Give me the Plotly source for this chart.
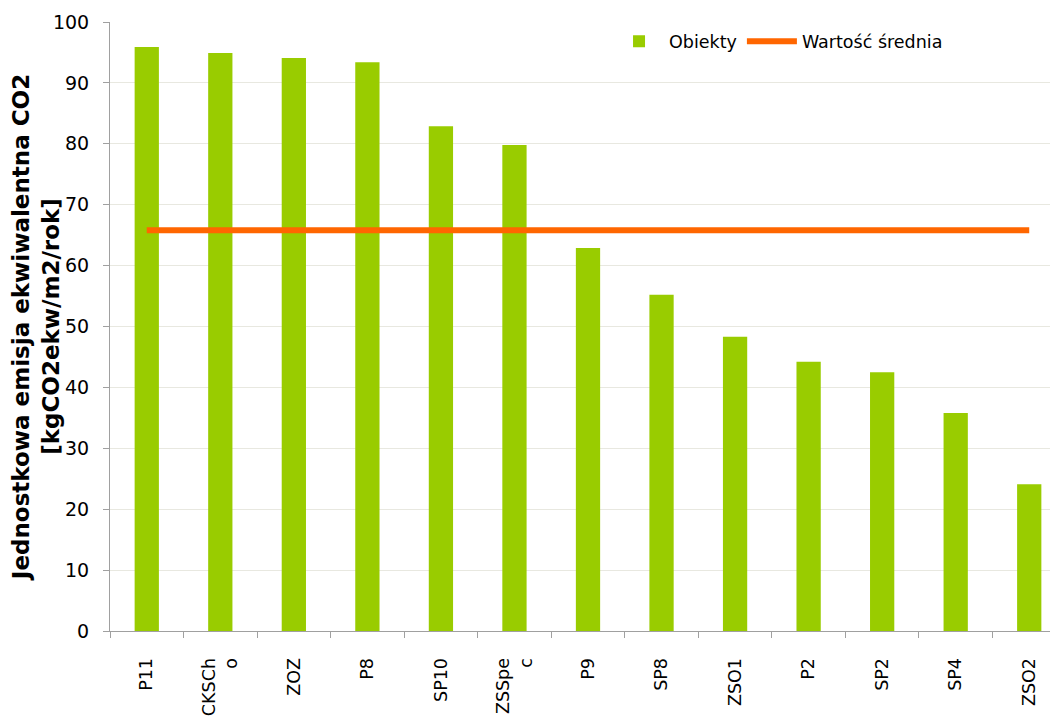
import plotly.graph_objects as go

categories = ["P11", "CKSCh<br>o", "ZOZ", "P8", "SP10", "ZSSpe<br>c", "P9", "SP8", "ZSO1", "P2", "SP2", "SP4", "ZSO2"]
values = [95.9, 94.9, 94.1, 93.4, 82.9, 79.8, 62.9, 55.2, 48.3, 44.2, 42.5, 35.8, 24.1]
mean_value = [65.8] * len(categories)

font_family = "DejaVu Sans, Verdana, sans-serif"

fig = go.Figure()
fig.add_trace(go.Bar(
    x=categories, y=values, name="Obiekty",
    marker=dict(color="#99CC00", line=dict(width=0)),
    width=0.33,
))
fig.add_trace(go.Scatter(
    x=categories, y=mean_value, name="Wartość średnia", mode="lines",
    line=dict(color="#FF6600", width=6),
))

fig.update_layout(
    width=1058, height=716,
    margin=dict(l=102, r=0, t=14, b=93),
    paper_bgcolor="white", plot_bgcolor="white",
    font=dict(family=font_family, size=18, color="#000000"),
    showlegend=True,
    legend=dict(
        orientation="h", x=0.522, y=0.968, xanchor="left", yanchor="middle",
        font=dict(size=17.5), bgcolor="rgba(0,0,0,0)", traceorder="normal",
        itemwidth=50,
    ),
    xaxis=dict(
        type="category", range=[-0.5, 12.5], automargin=False,
        showline=True, linecolor="#A0A0A0", linewidth=1,
        ticks="outside", tickson="boundaries", ticklen=6, tickcolor="#A0A0A0",
        tickangle=-90, tickfont=dict(size=17.5), ticklabelstandoff=19,
        showgrid=False,
    ),
    yaxis=dict(
        range=[0, 100], dtick=10, automargin=False,
        showline=True, linecolor="#A0A0A0", linewidth=1,
        ticks="outside", ticklen=6, tickcolor="#A0A0A0", ticklabelstandoff=10,
        gridcolor="#E8E8E0", gridwidth=1,
        tickfont=dict(size=19),
        zeroline=False,
        title=dict(text="<b>Jednostkowa emisja ekwiwalentna CO2<br>[kgCO2ekw/m2/rok]</b>",
                   font=dict(size=23), standoff=5),
    ),
)

fig.write_html("out.html")
